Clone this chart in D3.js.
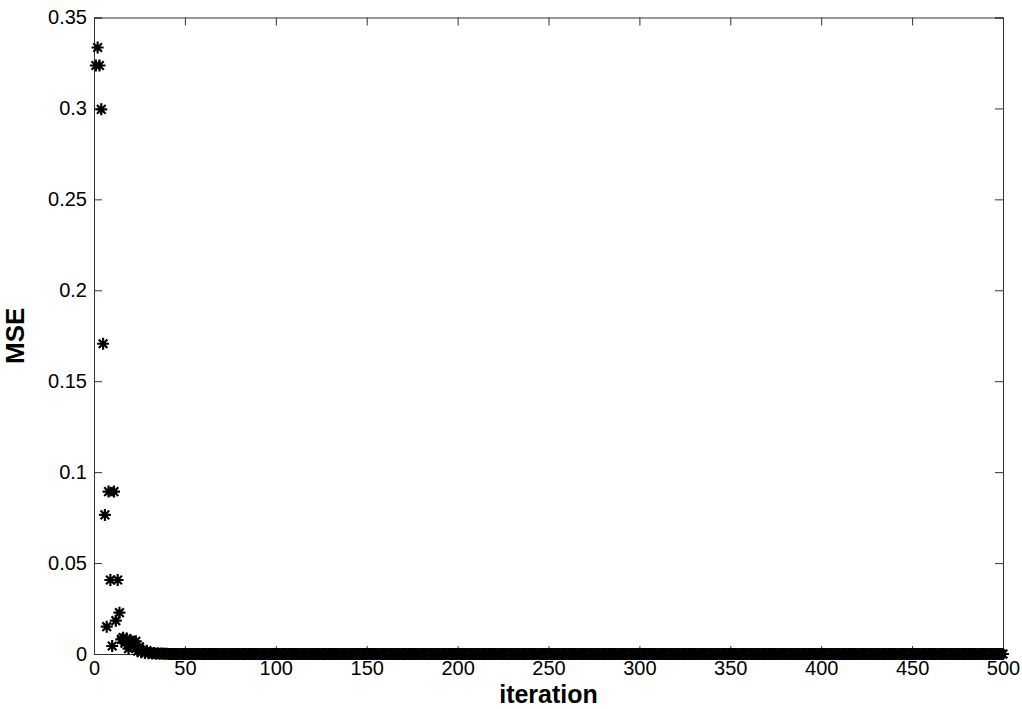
<!DOCTYPE html>
<html>
<head>
<meta charset="utf-8">
<script src="https://cdn.jsdelivr.net/npm/d3@7"></script>
<style>
  body { margin: 0; background: #fff; }
  text { font-family: "Liberation Sans", Arial, sans-serif; }
</style>
</head>
<body>
<script>
// MSE per iteration
var earlyMSE = [0.3236, 0.3335, 0.3236, 0.2995, 0.1706, 0.0765, 0.0150, 0.0893, 0.0407, 0.0044,
                0.0893, 0.0183, 0.0407, 0.0227, 0.0080, 0.0090, 0.0060, 0.0085, 0.0030, 0.0075,
                0.0068, 0.0050, 0.0070, 0.0015, 0.0040, 0.0010, 0.0020, 0.0005, 0.0018, 0.0004,
                0.0008, 0.0003, 0.0006, 0.0002, 0.0004, 0.0002, 0.0003, 0.0001, 0.0002, 0.0001];
var tailMSE = 0;          // flat at zero from iteration 41 up to 500
var lastIter = 500;
var xTicks = [0, 50, 100, 150, 200, 250, 300, 350, 400, 450, 500];
var yTicks = [0, 0.05, 0.1, 0.15, 0.2, 0.25, 0.3, 0.35];

var points = [];
for (var i = 1; i <= lastIter; i++) {
  points.push({ it: i, mse: i <= earlyMSE.length ? earlyMSE[i - 1] : tailMSE });
}

var W = 1022, H = 709;
var m = { left: 94, top: 17.5, right: 19, bottom: 55 };
var w = W - m.left - m.right, h = H - m.top - m.bottom;

var svg = d3.select("body").append("svg")
  .attr("width", W)
  .attr("height", H);

var g = svg.append("g").attr("transform", "translate(" + m.left + "," + m.top + ")");

var x = d3.scaleLinear().domain([0, 500]).range([0, w]);
var y = d3.scaleLinear().domain([0, 0.35]).range([h, 0]);

// axes with inward ticks, box like matlab
var tickLen = 8;
var xAxis = g.append("g").attr("transform", "translate(0," + h + ")")
  .call(d3.axisBottom(x).tickValues(xTicks).tickSize(-tickLen).tickPadding(7)
    .tickFormat(d3.format("d")));
var xTop = g.append("g")
  .call(d3.axisTop(x).tickValues(xTicks).tickSize(-tickLen).tickFormat(""));
var yAxis = g.append("g")
  .call(d3.axisLeft(y).tickValues(yTicks).tickSize(-tickLen).tickPadding(7)
    .tickFormat(function(d) { return d === 0 ? "0" : String(+d.toFixed(2)); }));
var yRight = g.append("g").attr("transform", "translate(" + w + ",0)")
  .call(d3.axisRight(y).tickValues(yTicks).tickSize(-tickLen).tickFormat(""));

[xAxis, xTop, yAxis, yRight].forEach(function(a) {
  a.select(".domain").attr("stroke", "#333").attr("stroke-width", 1);
  a.selectAll(".tick line").attr("stroke", "#333");
  a.selectAll("text").attr("fill", "#000").style("font-size", "20px")
    .style("font-family", "'Liberation Sans', Arial, sans-serif");
});

// asterisk markers
var r = 6, rd = r * 0.72;
var star = "M" + (-r) + ",0H" + r + "M0," + (-r) + "V" + r +
  "M" + (-rd) + "," + (-rd) + "L" + rd + "," + rd +
  "M" + (-rd) + "," + rd + "L" + rd + "," + (-rd);

g.selectAll("path.pt")
  .data(points)
  .enter()
  .append("path")
  .attr("class", "pt")
  .attr("d", star)
  .attr("transform", function(d) { return "translate(" + x(d.it) + "," + y(d.mse) + ")"; })
  .attr("fill", "none")
  .attr("stroke", "#000")
  .attr("stroke-width", 2.2);

// labels
svg.append("text")
  .attr("x", m.left + w / 2)
  .attr("y", 703)
  .attr("text-anchor", "middle")
  .style("font-size", "25px")
  .style("font-weight", "bold")
  .text("iteration");

svg.append("text")
  .attr("transform", "translate(24," + (m.top + h / 2) + ") rotate(-90)")
  .attr("text-anchor", "middle")
  .style("font-size", "26px")
  .style("font-weight", "bold")
  .text("MSE");
</script>
</body>
</html>
